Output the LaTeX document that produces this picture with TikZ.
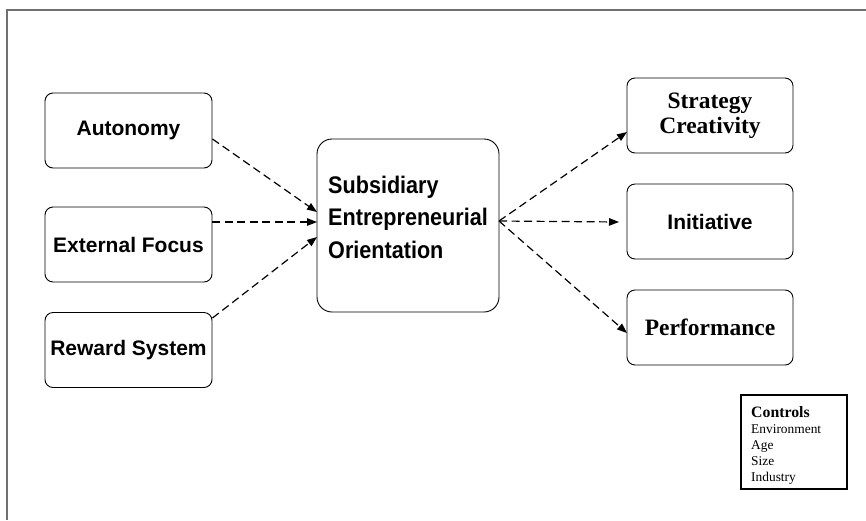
\documentclass[tikz,border=0pt]{standalone}
\usepackage{fontspec}
\usetikzlibrary{arrows.meta}
\newfontfamily\hvb{Liberation Sans Bold}
\newfontfamily\hvbn[FakeStretch=0.9]{Liberation Sans Bold}
\newfontfamily\tmr{Liberation Serif}
\newfontfamily\tmb{Liberation Serif Bold}
\definecolor{framegray}{HTML}{707070}
\begin{document}
\begin{tikzpicture}[x=1pt,y=-1pt,
  boxs/.style={draw=black, line width=0.9pt, rounded corners=8pt, minimum width=167pt, minimum height=75pt, inner sep=0pt},
  sanslbl/.style={font=\hvb\fontsize{21}{25}\selectfont},
  seriflbl/.style={font=\tmb\fontsize{23.5}{27}\selectfont, align=center},
  link/.style={draw=black, line width=1.2pt, dash pattern=on 8pt off 4.5pt, -{Triangle[length=10pt,width=7.5pt]}}]
\useasboundingbox (0,0) rectangle (866,520);
\fill[white] (0,0) rectangle (866,520);
\draw[framegray, line width=1.6pt] (7,520) -- (7,10) -- (866,10);

% left boxes
\node[boxs, sanslbl] (aut) at (128.5,130.5) {Autonomy};
\node[boxs, sanslbl] (ext) at (128.5,244.5) {External Focus};
\node[boxs, sanslbl] (rew) at (128.5,350) {Reward System};

% central box
\node[draw=black, line width=0.9pt, rounded corners=15pt, minimum width=182pt, minimum height=173pt, inner sep=0pt] (seo) at (408,225.5) {};
\node[anchor=base west, inner sep=0pt, align=left, font=\hvbn\fontsize{24}{32.5}\selectfont] (seotxt) at (328,258) {Subsidiary\\Entrepreneurial\\Orientation};

% right boxes
\node[boxs, minimum width=166pt, seriflbl] (str) at (710,115.5) {Strategy\\[-2pt]Creativity};
\node[boxs, minimum width=166pt, sanslbl] (ini) at (710,221.5) {Initiative};
\node[boxs, minimum width=166pt, seriflbl] (per) at (710,327.5) {Performance};

% controls
\node[draw=black, line width=1.1pt, minimum width=106pt, minimum height=94pt, inner sep=0pt] (ctl) at (794,442) {};
\node[anchor=base west, inner sep=0pt, align=left, font=\tmr\fontsize{13.4}{16}\selectfont] (ctltxt) at (751,481) {{\tmb\fontsize{15.8}{16}\selectfont Controls}\\Environment\\Age\\Size\\Industry};

% connector end points
\coordinate (in1) at (317,212);
\coordinate (in2) at (317,222);
\coordinate (in3) at (317,237);
\coordinate (out) at (499,221);
\coordinate (t1) at (627,132);
\coordinate (t2) at (619,222);
\coordinate (t3) at (627,333);

\draw[link] ([yshift=-8.5pt]aut.east) -- (in1);
\draw[link] ([yshift=22.5pt]ext.east) -- (in2);
\draw[link] ([yshift=32pt]rew.east) -- (in3);
\draw[link] (out) -- (t1);
\draw[link] (out) -- (t2);
\draw[link] (out) -- (t3);
\end{tikzpicture}
\end{document}
